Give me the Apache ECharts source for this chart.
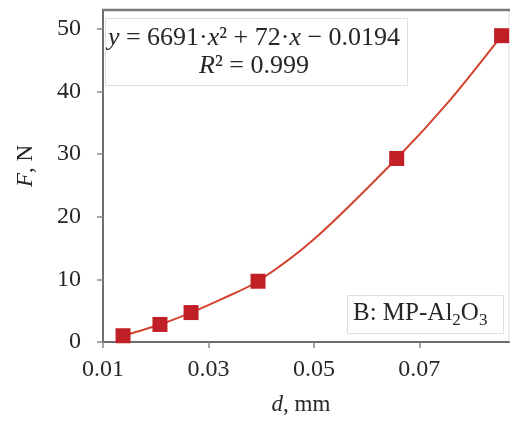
<!DOCTYPE html>
<html>
<head>
<meta charset="utf-8">
<script src="https://cdn.jsdelivr.net/npm/echarts@6/dist/echarts.min.js"></script>
<style>
  html, body { margin: 0; padding: 0; background: #fff; }
  #chart { width: 512px; height: 423px; }
</style>
</head>
<body>
<div id="chart"></div>
<script>
// Indentation depth d (mm) versus applied load F (N)
var depthMm = [0.0138, 0.0208, 0.0267, 0.0394, 0.0657, 0.0856];
var loadN = [1.0, 2.8, 4.7, 9.7, 29.3, 48.9];

// Points along the fitted trend curve
var fitDepthMm = [0.0138, 0.0208, 0.0267, 0.0329, 0.0394, 0.0500, 0.0657, 0.0759, 0.0856];
var fitLoadN = [1.0, 2.8, 4.7, 7.0, 9.7, 16.4, 29.3, 38.7, 48.9];

var xTickValues = [0.01, 0.03, 0.05, 0.07];
var yTickValues = [0, 10, 20, 30, 40, 50];

var fitEquationLine = '{i|y} = 6691·{i|x}² + 72·{i|x} − 0.0194';
var fitR2Line = '{i|R}² = 0.999';
var sampleLabel = '{n|B: MP-Al}{s|2}{n|O}{s|3}';

var serif = '"Liberation Serif", "Times New Roman", serif';
var axisColor = '#6e6e6e';
var textColor = '#262626';

var points = depthMm.map(function (d, i) { return [d, loadN[i]]; });
var fitPoints = fitDepthMm.map(function (d, i) { return [d, fitLoadN[i]]; });

var chart = echarts.init(document.getElementById('chart'), null, { renderer: 'canvas' });

chart.setOption({
  animation: false,
  backgroundColor: '#ffffff',
  grid: {
    left: 103, top: 10, right: 3, bottom: 81,
    show: true, borderColor: '#dcdcdc', borderWidth: 1, backgroundColor: 'transparent'
  },
  xAxis: {
    type: 'value',
    min: 0.01, max: 0.087,
    splitLine: { show: false },
    axisLine: { show: true, onZero: false, lineStyle: { color: axisColor, width: 2 } },
    axisTick: { show: true, customValues: xTickValues, length: 6, lineStyle: { color: '#8a8a8a', width: 1.5 } },
    axisLabel: {
      customValues: xTickValues,
      margin: 16,
      fontFamily: serif, fontSize: 24, color: textColor,
      formatter: function (v) { return v.toFixed(2); }
    },
    name: '{i|d}, mm',
    nameLocation: 'middle',
    nameGap: 51,
    nameTextStyle: {
      fontFamily: serif, fontSize: 23, color: textColor,
      padding: [0, 10, 0, 0],
      rich: { i: { fontFamily: serif, fontSize: 23, fontStyle: 'italic', color: textColor } }
    }
  },
  yAxis: {
    type: 'value',
    min: 0, max: 53,
    splitLine: { show: false },
    axisLine: { show: true, onZero: false, lineStyle: { color: axisColor, width: 2 } },
    axisTick: { show: true, customValues: yTickValues, length: 6, lineStyle: { color: '#8a8a8a', width: 1.5 } },
    axisLabel: {
      customValues: yTickValues,
      margin: 22,
      fontFamily: serif, fontSize: 24, color: textColor
    },
    name: '{i|F}, N',
    nameLocation: 'middle',
    nameGap: 66,
    nameTextStyle: {
      fontFamily: serif, fontSize: 23, color: textColor,
      padding: [0, 0, 0, 20],
      rich: { i: { fontFamily: serif, fontSize: 23, fontStyle: 'italic', color: textColor } }
    }
  },
  graphic: [
    {
      // darker top edge of the plot frame
      type: 'line', z: 100,
      shape: { x1: 102, y1: 10, x2: 510, y2: 10 },
      style: { stroke: '#7a7a7a', lineWidth: 2.5 }
    },
    {
      type: 'rect', z: 50,
      shape: { x: 105.5, y: 18.5, width: 302, height: 67 },
      style: { fill: '#ffffff', stroke: '#dedede', lineWidth: 1 }
    },
    {
      type: 'text', z: 51,
      style: {
        x: 254, y: 24,
        text: fitEquationLine + '\n' + fitR2Line,
        align: 'center', verticalAlign: 'top',
        fontFamily: serif, fontSize: 26, lineHeight: 28, fill: textColor,
        rich: { i: { fontFamily: serif, fontSize: 26, lineHeight: 28, fontStyle: 'italic', fill: textColor } }
      }
    },
    {
      type: 'rect', z: 50,
      shape: { x: 347.5, y: 295.5, width: 156, height: 38 },
      style: { fill: '#ffffff', stroke: '#dedede', lineWidth: 1 }
    },
    {
      type: 'text', z: 51,
      style: {
        x: 353, y: 298,
        text: sampleLabel,
        align: 'left', verticalAlign: 'top',
        fill: textColor,
        rich: {
          n: { fontFamily: serif, fontSize: 25, lineHeight: 31, verticalAlign: 'middle', fill: textColor },
          s: { fontFamily: serif, fontSize: 17, lineHeight: 17, verticalAlign: 'bottom', fill: textColor }
        }
      }
    }
  ],
  series: [
    {
      name: 'fit',
      type: 'line',
      data: fitPoints,
      smooth: 0.3,
      showSymbol: false,
      symbol: 'none',
      lineStyle: { color: '#d4432f', width: 2 },
      z: 3
    },
    {
      name: 'measured',
      type: 'scatter',
      data: points,
      symbol: 'rect',
      symbolSize: 15,
      itemStyle: { color: '#c11f26', opacity: 1 },
      z: 4
    }
  ]
});
</script>
</body>
</html>
